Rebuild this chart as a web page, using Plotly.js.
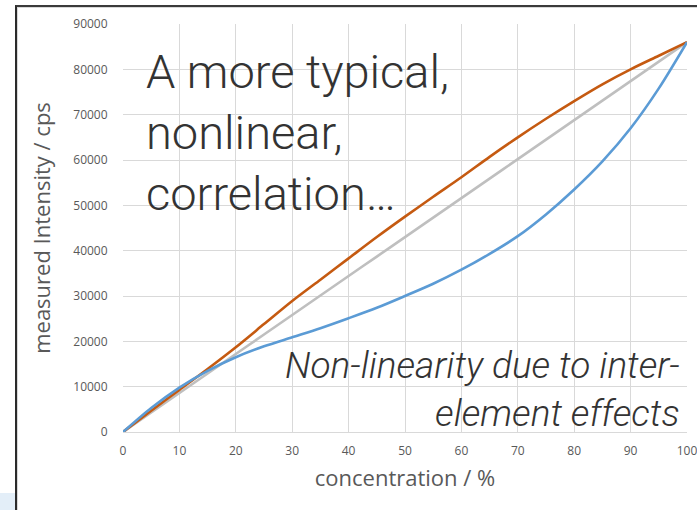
<!DOCTYPE html>
<html>
<head>
<meta charset="utf-8">
<script src="https://cdn.plot.ly/plotly-3.0.1.min.js"></script>
<style>
  html, body { margin: 0; padding: 0; background: #ffffff; }
  #wrap { position: relative; width: 697px; height: 510px; overflow: hidden; }
  #chart { position: absolute; left: 0; top: 0; width: 697px; height: 510px; }
  #frame { position: absolute; left: 15px; top: 5px; width: 700px; height: 520px;
           border-left: 2px solid #2b2b2b; border-top: 2px solid #3a3a3a; pointer-events: none; }
  #frame2 { position: absolute; left: 17px; top: 7px; width: 700px; height: 520px;
           border-left: 1px solid #d8d8d8; border-top: 1px solid #d8d8d8; pointer-events: none; }
  #bluebox { position: absolute; left: 0; top: 493px; width: 15px; height: 17px; background: #e3eef8; }
</style>
</head>
<body>
<div id="wrap">
  <div id="chart"></div>
  <div id="frame"></div>
  <div id="frame2"></div>
  <div id="bluebox"></div>
</div>
<script>
const concentration = [0, 5, 10, 15, 20, 25, 30, 35, 40, 45, 50, 55, 60, 65, 70, 75, 80, 85, 90, 95, 100];
const linearSeries = [0, 4300, 8600, 12900, 17200, 21500, 25800, 30100, 34400, 38700, 43000, 47300, 51600, 55900, 60200, 64500, 68800, 73100, 77400, 81700, 86000];
const orangeSeries = [0, 4700, 9300, 13900, 18700, 23800, 28900, 33600, 38300, 43000, 47500, 51900, 56200, 60700, 65000, 69100, 73000, 76700, 80000, 83000, 86000];
const blueSeries = [0, 5300, 9800, 13500, 16500, 18900, 20900, 22900, 25100, 27400, 30000, 32700, 35800, 39300, 43200, 48000, 53500, 59700, 67000, 75800, 86000];
const xTicks = [0, 10, 20, 30, 40, 50, 60, 70, 80, 90, 100];
const yTicks = [0, 10000, 20000, 30000, 40000, 50000, 60000, 70000, 80000, 90000];
const titleText = "A more typical,<br>nonlinear,<br>correlation…";
const noteText = "Non-linearity due to inter-<br>element effects";
const xTitle = "concentration / %";
const yTitle = "measured Intensity / cps";

const traces = [
  { x: concentration, y: linearSeries, type: 'scatter', mode: 'lines',
    line: { color: '#bfbfbf', width: 2.6, shape: 'spline', smoothing: 0.8 }, hoverinfo: 'skip' },
  { x: concentration, y: orangeSeries, type: 'scatter', mode: 'lines',
    line: { color: '#c55a11', width: 2.6, shape: 'spline', smoothing: 0.8 }, hoverinfo: 'skip' },
  { x: concentration, y: blueSeries, type: 'scatter', mode: 'lines',
    line: { color: '#5b9bd5', width: 2.6, shape: 'spline', smoothing: 0.8 }, hoverinfo: 'skip' }
];

const tickFont = { family: '"Open Sans", "DejaVu Sans", sans-serif', size: 12, color: '#595959' };
const layout = {
  width: 697, height: 510,
  margin: { l: 123, r: 10, t: 24, b: 78 },
  paper_bgcolor: '#ffffff', plot_bgcolor: '#ffffff',
  showlegend: false,
  font: { family: '"Open Sans", sans-serif', color: '#595959' },
  xaxis: {
    range: [0, 100], tickvals: xTicks, ticktext: xTicks.map(String),
    showgrid: true, gridcolor: '#d9d9d9', gridwidth: 1,
    zeroline: false, showline: true, linecolor: '#d9d9d9', linewidth: 1, mirror: false,
    ticks: 'outside', ticklen: 8, tickcolor: 'rgba(0,0,0,0)',
    ticklabeloverflow: 'allow',
    tickfont: tickFont,
    title: { text: xTitle, font: { family: '"Open Sans", sans-serif', size: 22, color: '#595959' }, standoff: 12 },
    fixedrange: true
  },
  yaxis: {
    range: [0, 90000], tickvals: yTicks, ticktext: yTicks.map(String),
    showgrid: true, gridcolor: '#d9d9d9', gridwidth: 1,
    zeroline: false, showline: false,
    ticks: 'outside', ticklen: 12, tickcolor: 'rgba(0,0,0,0)',
    tickfont: tickFont,
    title: { text: yTitle, font: { family: '"Open Sans", sans-serif', size: 22, color: '#595959' }, standoff: 16 },
    fixedrange: true
  },
  annotations: [
    { xref: 'paper', yref: 'paper', x: 0.037, y: 0.955, xanchor: 'left', yanchor: 'top',
      text: titleText, showarrow: false, align: 'left',
      font: { family: 'Roboto, sans-serif', size: 47, color: '#333333', weight: 300 } },
    { xref: 'paper', yref: 'paper', x: 0.992, y: 0.103, xanchor: 'right', yanchor: 'middle',
      text: noteText, showarrow: false, align: 'right',
      font: { family: 'Roboto, sans-serif', size: 37, color: '#333333', weight: 300, style: 'italic' } }
  ]
};

Plotly.newPlot('chart', traces, layout, { staticPlot: true, displayModeBar: false });
</script>
</body>
</html>
